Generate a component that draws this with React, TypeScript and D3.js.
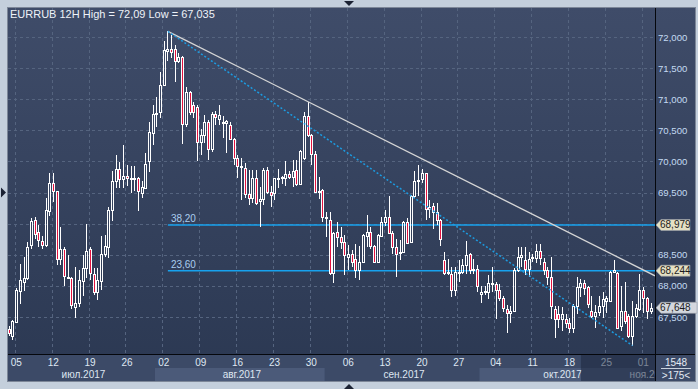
import * as React from 'react';
import * as d3 from 'd3';

const TITLE = 'EURRUB 12H High = 72,09 Low = 67,035';

// 12H bars, 04.07.2017 .. 02.11.2017 (175 bars)
const OPEN = [
    67.30, 67.19, 67.42, 67.92, 68.06, 68.12, 68.66, 69.06, 68.87, 68.72,
    68.65, 69.21, 69.65, 69.52, 68.44, 68.60, 68.15, 68.13, 67.66, 67.73,
    68.08, 68.28, 68.60, 68.19, 67.90, 68.08, 68.52, 68.63, 69.22, 69.68,
    69.88, 69.71, 69.76, 69.73, 69.71, 69.73, 69.50, 69.58, 70.00, 70.45,
    70.76, 70.79, 71.23, 71.78, 71.81, 71.80, 71.61, 71.68, 70.60, 71.11,
    70.90, 70.88, 70.32, 70.43, 70.64, 70.20, 70.76, 70.69, 70.63, 70.62,
    70.59, 70.36, 70.06, 69.91, 69.89, 69.47, 69.42, 69.73, 69.37, 69.40,
    69.87, 69.51, 69.49, 69.71, 69.73, 69.73, 69.80, 69.75, 69.86, 69.63,
    70.05, 70.73, 70.43, 70.12, 69.51, 69.54, 69.10, 69.06, 68.20, 68.87,
    68.78, 68.71, 68.47, 68.51, 68.44, 68.25, 68.39, 68.80, 68.87, 68.64,
    68.39, 68.80, 69.03, 69.11, 68.85, 68.63, 68.53, 68.55, 69.03, 68.71,
    69.44, 69.68, 69.72, 69.81, 69.27, 69.28, 69.19, 69.06, 68.42, 68.22,
    68.19, 67.94, 68.20, 68.22, 68.34, 68.52, 68.25, 68.27, 67.87, 67.90,
    67.90, 68.04, 68.03, 67.94, 67.81, 67.63, 67.56, 67.60, 68.25, 68.47,
    68.41, 68.27, 68.45, 68.45, 68.56, 68.39, 68.25, 68.14, 67.63, 67.55,
    67.47, 67.47, 67.41, 67.32, 67.68, 67.98, 68.04, 67.99, 67.59, 67.51,
    67.58, 67.68, 67.76, 67.76, 68.22, 68.20, 67.36, 67.60, 67.52, 67.20,
    67.52, 67.63, 67.94, 67.81, 67.60
];
const HIGH = [
    67.35, 67.45, 67.97, 68.35, 68.46, 68.70, 69.09, 69.10, 68.98, 68.80,
    69.41, 69.81, 69.81, 69.53, 68.95, 68.62, 68.49, 68.14, 68.31, 68.25,
    68.49, 69.00, 68.63, 68.28, 68.28, 68.80, 68.82, 69.27, 69.84, 70.10,
    69.99, 70.27, 69.95, 69.92, 69.92, 69.75, 69.68, 70.13, 70.64, 70.91,
    71.04, 71.44, 71.94, 72.09, 72.03, 71.87, 71.74, 71.70, 71.20, 71.13,
    70.95, 70.91, 70.52, 70.74, 70.66, 70.80, 70.81, 70.91, 70.73, 70.67,
    70.64, 70.37, 70.10, 70.05, 69.97, 69.86, 69.86, 69.86, 69.59, 69.89,
    69.91, 69.60, 69.73, 69.88, 69.77, 70.00, 69.85, 70.02, 70.02, 70.19,
    70.80, 70.96, 70.44, 70.16, 69.75, 69.55, 69.18, 69.19, 68.87, 69.02,
    68.95, 68.82, 68.66, 68.58, 68.68, 68.64, 68.83, 69.14, 68.95, 68.66,
    68.84, 69.11, 69.22, 69.45, 68.88, 68.76, 68.74, 69.05, 69.09, 69.46,
    69.85, 69.95, 69.88, 69.82, 69.38, 69.34, 69.33, 69.08, 68.54, 68.44,
    68.30, 68.30, 68.42, 68.44, 68.72, 68.53, 68.44, 68.33, 68.00, 68.00,
    68.17, 68.31, 68.06, 68.03, 67.84, 67.70, 67.68, 68.29, 68.62, 68.63,
    68.63, 68.54, 68.51, 68.67, 68.67, 68.45, 68.30, 68.46, 67.68, 67.68,
    67.66, 67.55, 67.49, 67.71, 68.15, 68.11, 68.10, 68.00, 67.84, 67.70,
    67.84, 67.90, 67.83, 68.24, 68.41, 68.22, 68.00, 68.06, 67.55, 67.76,
    67.71, 68.19, 67.98, 67.82, 67.72
];
const LOW = [
    67.20, 67.13, 67.40, 67.71, 67.92, 68.10, 68.59, 68.76, 68.63, 68.59,
    68.63, 69.13, 69.35, 68.33, 68.33, 68.00, 68.13, 67.63, 67.49, 67.66,
    67.83, 68.13, 68.10, 67.85, 67.77, 67.93, 68.47, 68.45, 69.04, 69.57,
    69.57, 69.57, 69.60, 69.49, 69.52, 69.20, 69.41, 69.55, 69.83, 70.27,
    70.56, 70.70, 71.22, 71.61, 71.66, 71.28, 71.58, 70.28, 70.55, 70.75,
    70.70, 70.00, 70.10, 70.30, 70.03, 70.15, 70.59, 70.59, 70.37, 70.13,
    70.35, 69.94, 69.73, 69.38, 69.41, 69.30, 69.34, 69.30, 68.94, 69.30,
    69.48, 69.26, 69.38, 69.57, 69.64, 69.60, 69.72, 69.59, 69.60, 69.62,
    70.02, 70.40, 69.94, 69.50, 69.39, 69.03, 68.79, 68.17, 68.05, 68.63,
    68.60, 68.17, 68.25, 68.30, 68.13, 68.09, 68.38, 68.62, 68.60, 68.36,
    68.36, 68.79, 68.96, 68.84, 68.52, 68.15, 68.41, 68.54, 68.68, 68.69,
    69.42, 69.44, 69.65, 69.06, 69.09, 68.92, 68.98, 68.64, 68.17, 68.17,
    67.82, 67.84, 68.06, 68.19, 68.19, 68.19, 68.19, 67.90, 67.72, 67.85,
    67.79, 67.90, 67.47, 67.76, 67.58, 67.25, 67.41, 67.58, 68.22, 68.30,
    68.17, 68.14, 68.38, 68.36, 68.33, 68.17, 68.02, 67.47, 67.17, 67.33,
    67.28, 67.33, 67.25, 67.25, 67.55, 67.82, 67.86, 67.65, 67.49, 67.33,
    67.52, 67.49, 67.56, 67.74, 68.20, 67.31, 67.28, 67.39, 67.17, 67.04,
    67.49, 67.60, 67.56, 67.47, 67.55
];
const CLOSE = [
    67.25, 67.44, 67.93, 68.09, 68.13, 68.63, 69.04, 68.83, 68.73, 68.66,
    69.22, 69.65, 69.53, 68.44, 68.59, 68.16, 68.15, 67.70, 67.73, 68.10,
    68.28, 68.56, 68.20, 67.90, 68.09, 68.52, 68.64, 69.22, 69.68, 69.88,
    69.72, 69.76, 69.73, 69.71, 69.74, 69.52, 69.59, 69.96, 70.47, 70.76,
    70.78, 71.23, 71.79, 71.81, 71.76, 71.61, 71.68, 70.60, 71.12, 70.80,
    70.79, 70.32, 70.43, 70.64, 70.20, 70.76, 70.71, 70.75, 70.61, 70.65,
    70.36, 70.05, 69.92, 69.92, 69.47, 69.42, 69.73, 69.33, 69.40, 69.87,
    69.51, 69.46, 69.73, 69.73, 69.75, 69.80, 69.75, 69.84, 69.63, 70.16,
    70.73, 70.43, 70.12, 69.51, 69.53, 69.10, 69.09, 68.20, 68.85, 68.78,
    68.71, 68.50, 68.51, 68.39, 68.26, 68.39, 68.82, 68.87, 68.64, 68.39,
    68.82, 69.03, 69.11, 68.85, 68.63, 68.52, 68.55, 69.03, 68.69, 69.44,
    69.69, 69.70, 69.81, 69.23, 69.23, 69.19, 69.06, 68.75, 68.20, 68.20,
    67.94, 68.22, 68.23, 68.34, 68.50, 68.25, 68.27, 68.00, 67.90, 67.91,
    68.04, 68.05, 67.94, 67.81, 67.65, 67.56, 67.60, 68.26, 68.47, 68.49,
    68.27, 68.44, 68.47, 68.56, 68.45, 68.25, 68.14, 67.68, 67.47, 67.47,
    67.55, 67.41, 67.32, 67.68, 67.98, 68.05, 67.97, 67.71, 67.52, 67.58,
    67.68, 67.79, 67.80, 68.22, 68.25, 67.33, 67.60, 67.44, 67.20, 67.52,
    67.65, 67.94, 67.81, 67.59, 67.65
];

const PRICE_TICKS = [67.5, 68.0, 68.5, 69.0, 69.5, 70.0, 70.5, 71.0, 71.5, 72.0];
// 69,000 sits under the 68,979 tag in the terminal
const PRICE_LABELS = [67.5, 68.0, 68.5, 69.5, 70.0, 70.5, 71.0, 71.5, 72.0];

const WEEK_LABELS = ['05', '12', '19', '26', '02', '09', '16', '23', '30', '06', '13', '20', '27', '04', '11', '18', '25', '01'];
const WEEK_BARS = [2, 12, 22, 32, 42, 52, 62, 72, 82, 92, 102, 112, 122, 132, 142, 152, 162, 172];

const MONTH_LABELS = ['июл.2017', 'авг.2017', 'сен.2017', 'окт.2017', 'ноя.2017'];
const MONTH_START_BARS = [-2, 40, 86, 128, 172, 215];
const SHADE_FROM_BAR = 155.5;

// trend lines: [bar, price]
const TREND_WHITE = [[43, 72.09], [81, 70.96]];
const TREND_DOTTED = [[43, 72.09], [169, 67.04]];

const FIB_LEVELS = [68.979, 68.244];
const FIB_NAMES = ['38,20', '23,60'];
const FIB_FROM_BAR = 43;
const LAST_PRICE = 67.648;

const fmt3 = (v: number) => v.toFixed(3).replace('.', ',');

export default function App() {
    /** ******** Canvas ********* */
    const W = 698;
    const H = 389;
    const PLOT = { left: 8, right: 655, top: 8, bottom: 354 };
    const PANEL_RIGHT = 695;
    const PANEL_BOTTOM = 381;
    const FONT = '"Liberation Sans", Arial, sans-serif';

    /** ******** Scales ********* */
    const x = d3.scaleLinear().domain([0, OPEN.length - 1]).range([9.3, 651]);
    const half = (x(1) - x(0)) / 2;
    const y = d3.scaleLinear().domain([67.5, 72]).range([317, 37]);

    const candles = OPEN.map((o, i) => ({ i, o, h: HIGH[i], l: LOW[i], c: CLOSE[i] }));

    const lineEnd = (pts: number[][], toBar: number) => {
        const [[b0, p0], [b1, p1]] = pts;
        const slope = (p1 - p0) / (b1 - b0);
        return [x(b0), y(p0), x(toBar), y(p0 + slope * (toBar - b0))];
    };
    const rightBar = x.invert(PLOT.right);
    const wl = lineEnd(TREND_WHITE, rightBar);
    const dl = lineEnd(TREND_DOTTED, TREND_DOTTED[1][0]);

    const shadeX = x(SHADE_FROM_BAR) - half;

    const tag = (v: number, fill: string, w: number) => {
        const yc = y(v);
        const hh = 5.5;
        const p = `M${PLOT.right + 1},${yc} L${PLOT.right + 6},${yc - hh} L${PLOT.right + 6 + w},${yc - hh} L${PLOT.right + 6 + w},${yc + hh} L${PLOT.right + 6},${yc + hh} Z`;
        return (
            <g key={v}>
                <path d={p} fill={fill} stroke="#9aa0a8" strokeWidth={0.6} />
                <text x={PLOT.right + 5} y={yc + 3.5} fontSize={10} fill="#1c1c1c">{fmt3(v)}</text>
            </g>
        );
    };

    return (
        <svg width={W} height={H} style={{ position: 'absolute', left: 0, top: 0, display: 'block' }} fontFamily={FONT}>
            <defs>
                <linearGradient id="bg" x1="0" y1="0" x2="0" y2="1">
                    <stop offset="0" stopColor="#3f4c69" />
                    <stop offset="1" stopColor="#2b3852" />
                </linearGradient>
                <clipPath id="plotClip">
                    <rect x={PLOT.left} y={PLOT.top} width={PLOT.right - PLOT.left} height={PLOT.bottom - PLOT.top} />
                </clipPath>
                <clipPath id="axisClip">
                    <rect x={PLOT.left} y={PLOT.bottom} width={PLOT.right - PLOT.left} height={PANEL_BOTTOM - PLOT.bottom} />
                </clipPath>
            </defs>

            {/* frame */}
            <rect x={0} y={0} width={W} height={H} fill="#c4cfdc" />
            <rect x={PLOT.left - 0.5} y={PLOT.top - 0.5} width={PANEL_RIGHT - PLOT.left + 1} height={PANEL_BOTTOM - PLOT.top + 1} fill="url(#bg)" stroke="#7d8798" />
            <path d={`M${W / 2 - 5},1 L${W / 2 + 5},1 L${W / 2},6 Z`} fill="#1b2233" />
            <path d={`M${W / 2 - 5},${H} L${W / 2 + 5},${H} L${W / 2},${H - 5} Z`} fill="#1b2233" />
            <path d={`M1,${y(69.5) - 5} L1,${y(69.5) + 5} L6,${y(69.5)} Z`} fill="#1b2233" />

            {/* grid */}
            <g stroke="#55647f" strokeWidth={1} strokeDasharray="3,3" shapeRendering="crispEdges">
                {PRICE_TICKS.map((v) => (
                    <line key={v} x1={PLOT.left} x2={PLOT.right} y1={Math.round(y(v)) + 0.5} y2={Math.round(y(v)) + 0.5} />
                ))}
                {WEEK_BARS.map((b) => (
                    <line key={b} x1={Math.round(x(b) - half) + 0.5} x2={Math.round(x(b) - half) + 0.5} y1={PLOT.top} y2={PLOT.bottom} />
                ))}
            </g>

            <text x={10} y={18} fontSize={11} fill="#eef2f8">{TITLE}</text>

            {/* fib levels */}
            <g clipPath="url(#plotClip)">
                {FIB_LEVELS.map((v, k) => (
                    <g key={v}>
                        <line x1={x(FIB_FROM_BAR)} x2={PLOT.right} y1={y(v)} y2={y(v)} stroke="#17a2ee" strokeWidth={1.6} />
                        <text x={x(FIB_FROM_BAR) + 3} y={y(v) - 3} fontSize={10} fill="#a9cdef">{FIB_NAMES[k]}</text>
                    </g>
                ))}

                {/* candles */}
                <g shapeRendering="crispEdges">
                    {candles.map((d) => {
                        const cx = Math.floor(x(d.i)) + 0.5;
                        const up = d.c >= d.o;
                        const yt = Math.round(y(Math.max(d.o, d.c))) + 0.5;
                        let yb = Math.round(y(Math.min(d.o, d.c))) + 0.5;
                        if (yb - yt < 1) yb = yt + 1;
                        return (
                            <g key={d.i}>
                                <line x1={cx} x2={cx} y1={y(d.h)} y2={yt} stroke="#ffffff" />
                                <line x1={cx} x2={cx} y1={yb} y2={y(d.l)} stroke="#ffffff" />
                                <rect x={cx - 1} y={yt} width={2} height={yb - yt} fill={up ? 'none' : '#e3123f'} stroke="#ffffff" strokeWidth={1} />
                            </g>
                        );
                    })}
                </g>

                {/* trend lines */}
                <line x1={wl[0]} y1={wl[1]} x2={wl[2]} y2={wl[3]} stroke="#d6d6d6" strokeWidth={1.3} />
                <line x1={dl[0]} y1={dl[1]} x2={dl[2]} y2={dl[3]} stroke="#1c9be0" strokeWidth={1.5} strokeDasharray="2,2" />
            </g>

            {/* price axis */}
            <g fontSize={9.6} fill="#c4daf2">
                {PRICE_LABELS.map((v) => (
                    <text key={v} x={PLOT.right + 3} y={y(v) + 3.5}>{fmt3(v)}</text>
                ))}
            </g>
            {tag(FIB_LEVELS[0], '#e4e0c3', 29)}
            {tag(FIB_LEVELS[1], '#e4e0c3', 29)}
            {tag(LAST_PRICE, '#d3d7de', 36)}

            {/* time axis */}
            <rect x={PLOT.left} y={PLOT.bottom} width={PANEL_RIGHT - PLOT.left} height={PANEL_BOTTOM - PLOT.bottom} fill="#3c4a67" />
            <g clipPath="url(#axisClip)">
                {MONTH_LABELS.map((m, k) => {
                    const x0 = Math.max(PLOT.left, x(MONTH_START_BARS[k]) - half);
                    const x1 = Math.min(PLOT.right, x(MONTH_START_BARS[k + 1]) - half);
                    return (
                        <g key={m}>
                            {k % 2 === 1 && <rect x={x0} y={368} width={Math.max(0, x1 - x0)} height={PANEL_BOTTOM - 368} fill="#4b5a79" />}
                            <text x={(x0 + x1) / 2 + 2} y={378} fontSize={10} textAnchor="middle" fill="#dfe7f2">{m}</text>
                        </g>
                    );
                })}
                {WEEK_LABELS.map((t, k) => (
                    <text key={k} x={x(WEEK_BARS[k]) - half + 1.5} y={366} fontSize={10} textAnchor="middle" fill="#dfe7f2">{t}</text>
                ))}
                <rect x={shadeX} y={PLOT.bottom} width={PLOT.right - shadeX} height={PANEL_BOTTOM - PLOT.bottom} fill="#18223a" opacity={0.5} />
            </g>

            {/* corner box */}
            <g fill="#e3eaf3" fontSize={10} textAnchor="middle">
                <text x={676} y={366}>1548</text>
                <line x1={661} x2={691} y1={368.5} y2={368.5} stroke="#c8d2de" strokeWidth={1} />
                <text x={676} y={379}>&gt;175&lt;</text>
            </g>

            {/* separators */}
            <g stroke="#05070c" strokeWidth={1.3} shapeRendering="crispEdges">
                <line x1={PLOT.right + 0.5} x2={PLOT.right + 0.5} y1={PLOT.top} y2={PANEL_BOTTOM} />
                <line x1={PLOT.left} x2={PANEL_RIGHT} y1={PLOT.bottom + 0.5} y2={PLOT.bottom + 0.5} />
            </g>
        </svg>
    );
}
